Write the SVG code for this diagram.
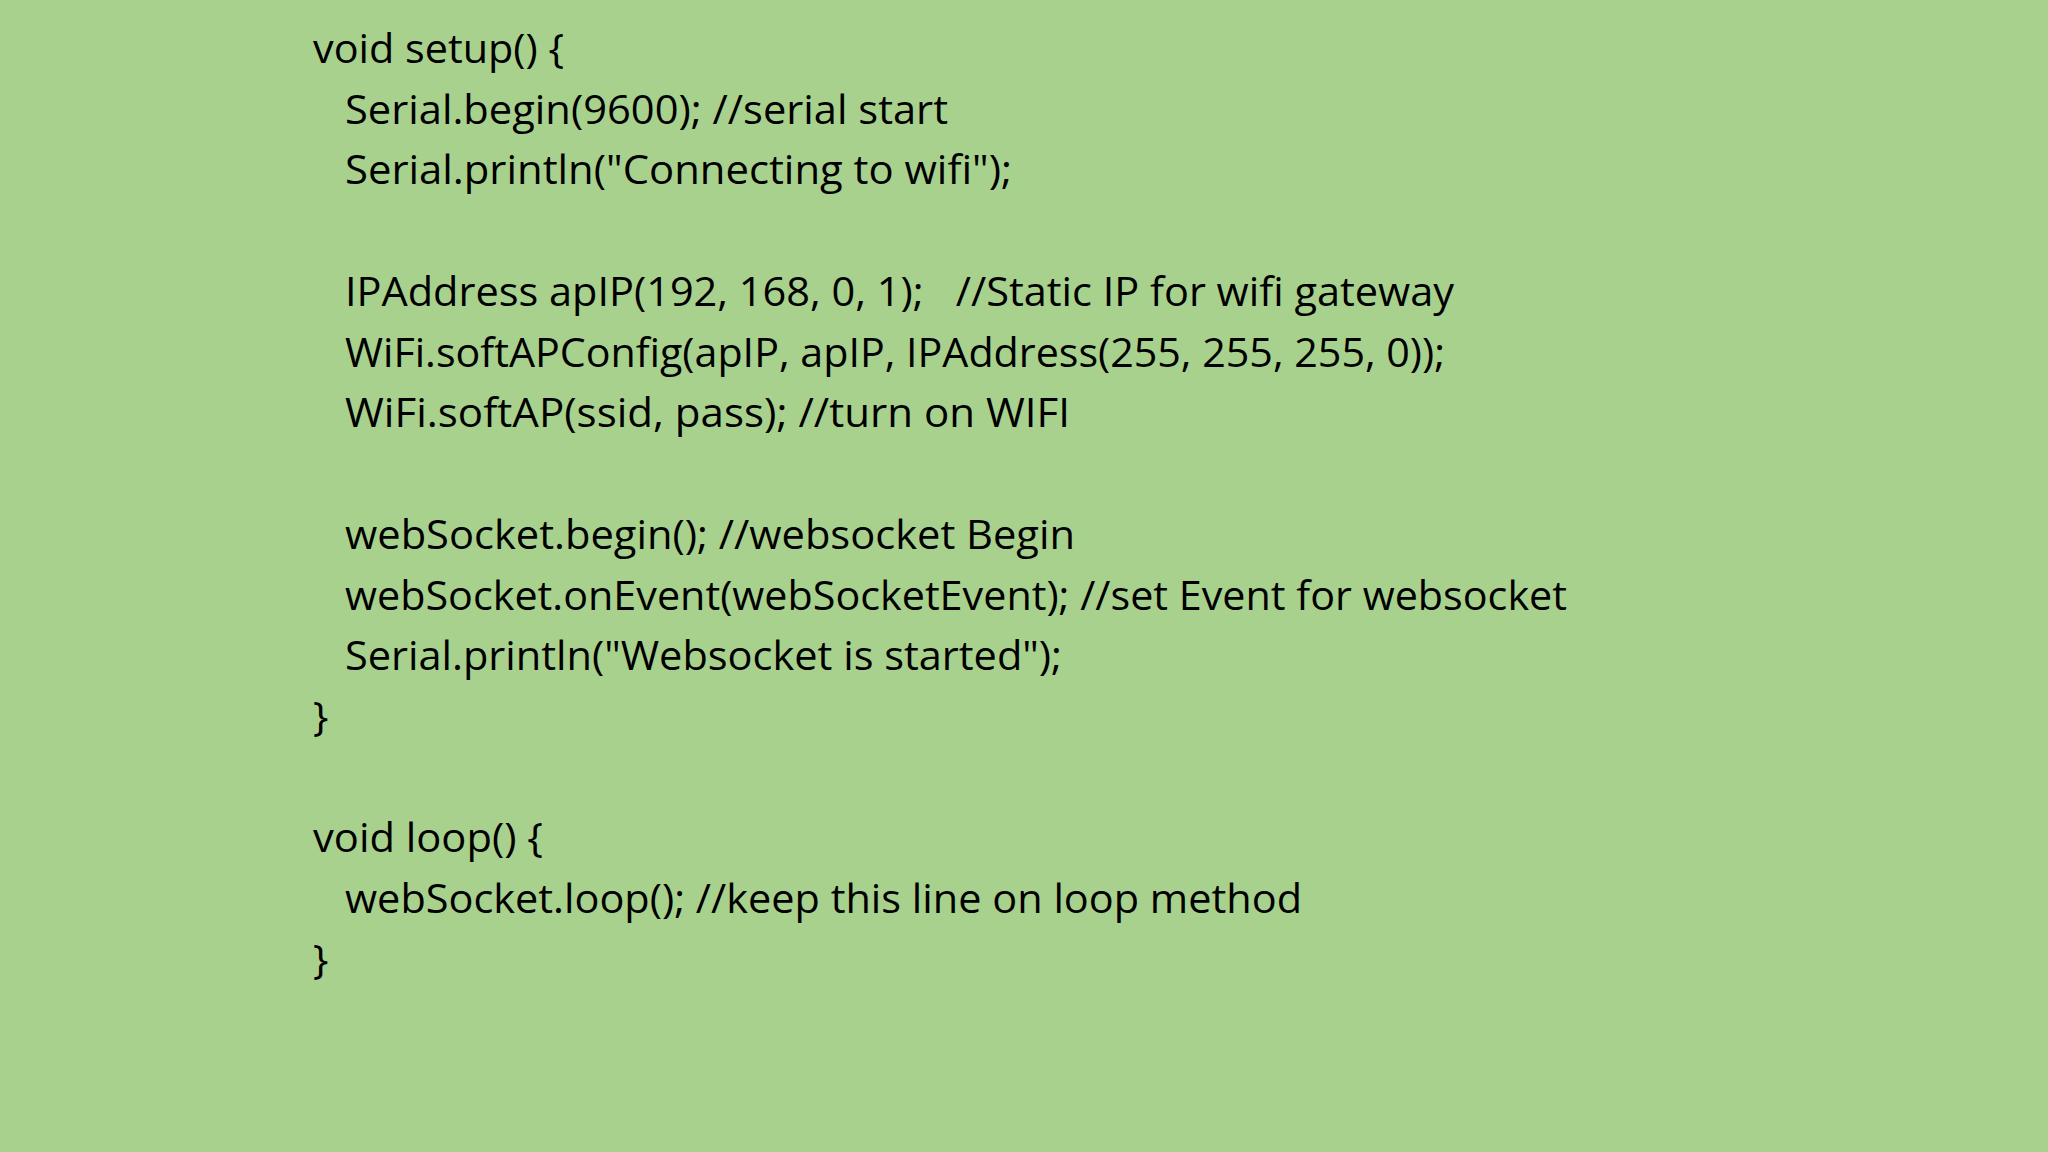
<svg xmlns="http://www.w3.org/2000/svg" width="2048" height="1152" viewBox="0 0 2048 1152">
<style>text{font-family:"Open Sans","Liberation Sans",sans-serif;font-size:41px;fill:#000;white-space:pre}</style>
<rect width="2048" height="1152" fill="#a9d18e"/>
<g id="code">
<text x="313" y="63" textLength="251" lengthAdjust="spacingAndGlyphs">void setup() {</text>
<text x="345" y="124" textLength="603" lengthAdjust="spacingAndGlyphs">Serial.begin(9600); //serial start</text>
<text x="345" y="184" textLength="667" lengthAdjust="spacingAndGlyphs">Serial.println("Connecting to wifi");</text>
<text x="345" y="306" textLength="1109" lengthAdjust="spacingAndGlyphs">IPAddress apIP(192, 168, 0, 1);   //Static IP for wifi gateway</text>
<text x="345" y="367" textLength="1100" lengthAdjust="spacingAndGlyphs">WiFi.softAPConfig(apIP, apIP, IPAddress(255, 255, 255, 0));</text>
<text x="345" y="427" textLength="725" lengthAdjust="spacingAndGlyphs">WiFi.softAP(ssid, pass); //turn on WIFI</text>
<text x="345" y="549" textLength="730" lengthAdjust="spacingAndGlyphs">webSocket.begin(); //websocket Begin</text>
<text x="345" y="610" textLength="1222" lengthAdjust="spacingAndGlyphs">webSocket.onEvent(webSocketEvent); //set Event for websocket</text>
<text x="345" y="670" textLength="717" lengthAdjust="spacingAndGlyphs">Serial.println("Websocket is started");</text>
<text x="313" y="731">}</text>
<text x="313" y="852" textLength="230" lengthAdjust="spacingAndGlyphs">void loop() {</text>
<text x="345" y="913" textLength="957" lengthAdjust="spacingAndGlyphs">webSocket.loop(); //keep this line on loop method</text>
<text x="313" y="974">}</text>
</g>
</svg>
